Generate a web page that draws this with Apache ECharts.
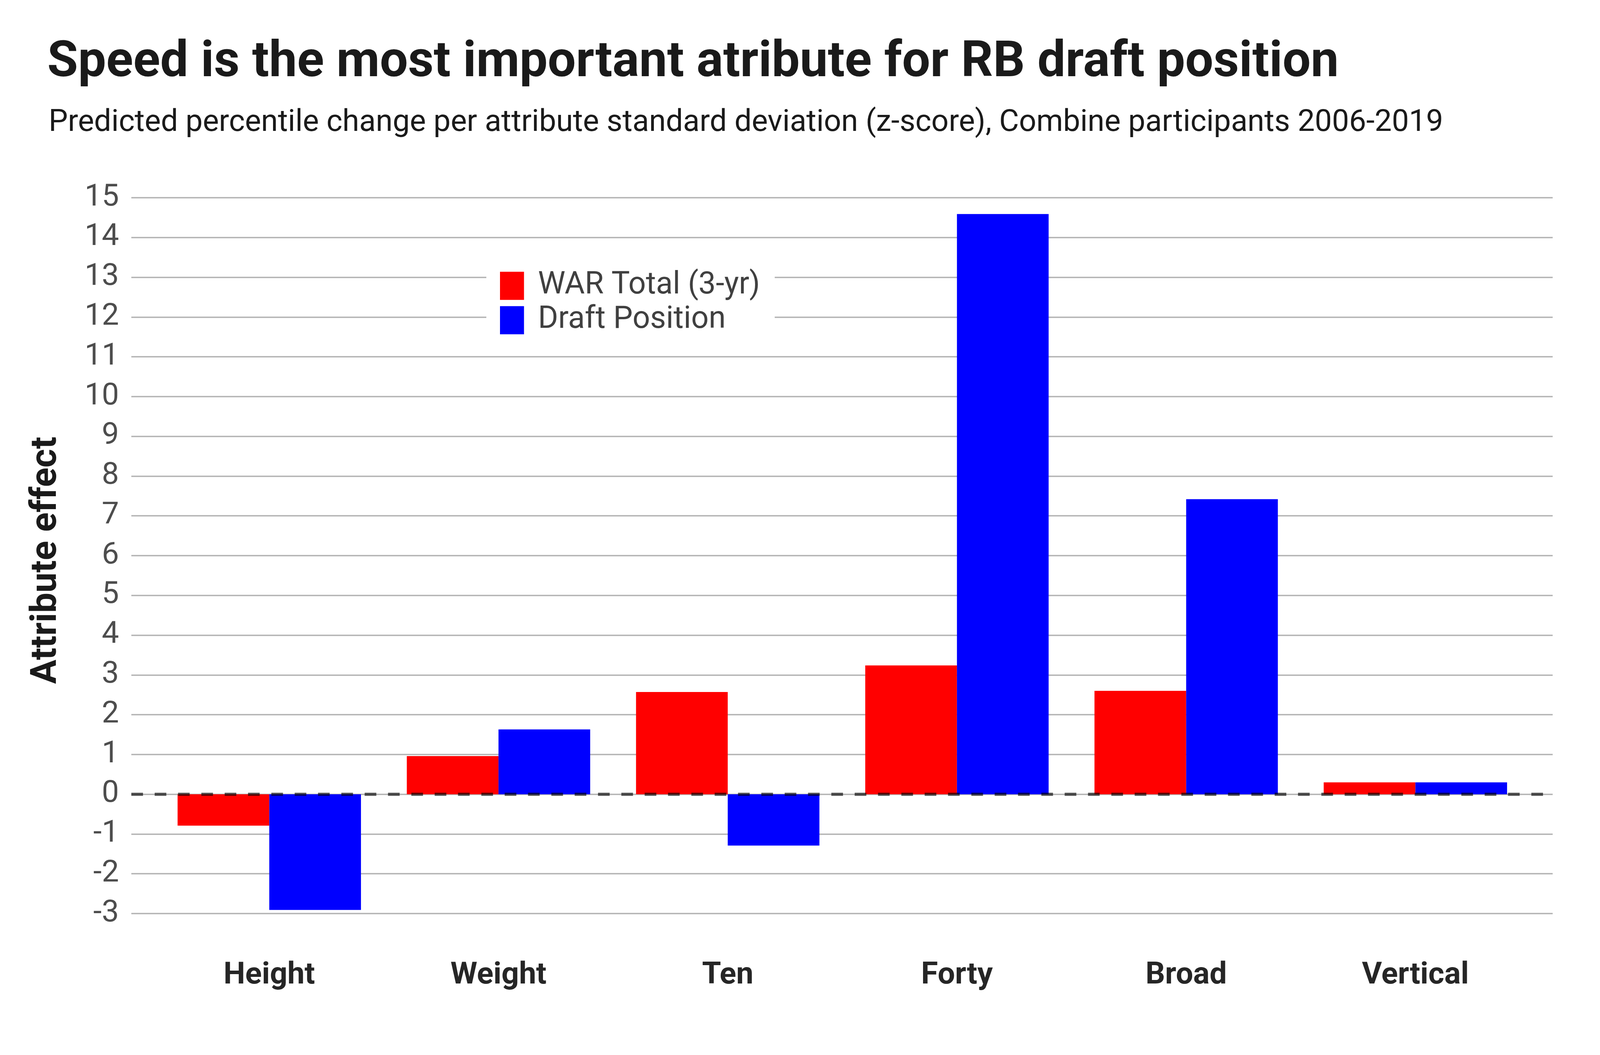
<!DOCTYPE html>
<html>
<head>
<meta charset="utf-8">
<script src="https://cdn.jsdelivr.net/npm/echarts@6/dist/echarts.min.js"></script>
<style>
html,body{margin:0;padding:0;background:#fff;overflow:hidden;}
#chart{width:100vw;height:100vh;}
</style>
</head>
<body>
<div id="chart"></div>
<script>
const categories = ['Height', 'Weight', 'Ten', 'Forty', 'Broad', 'Vertical'];
const warTotal = [-0.79, 0.96, 2.57, 3.24, 2.60, 0.30];
const draftPosition = [-2.91, 1.63, -1.29, 14.59, 7.42, 0.30];
const zeroLine = [[0, 0], [1, 0]];
const yMin = -3, yMax = 15, yStep = 1;

const el = document.getElementById('chart');
const W = el.clientWidth, H = el.clientHeight;
const sx = W / 4800, sy = H / 2700;
const X = v => v * sx;          // horizontal distances
const Y = v => v * sy;          // vertical distances
const F = v => v * sx;          // font sizes (width-preserving)
// top of a text box (lineHeight = font) whose centre must sit at reference y = c
const topFor = (c, f) => Y(c) - F(f) / 2;

const chart = echarts.init(el, null, {renderer: 'canvas'});
const FONT = 'Roboto';
const TITLE_F = 150, SUB_F = 91.5, AX_F = 92, LEG_F = 92.5, YT_F = 108;
const option = {
  backgroundColor: '#ffffff',
  animation: false,
  title: [
    {
      text: 'Speed is the most important atribute for RB draft position',
      left: X(136), top: topFor(158, TITLE_F),
      textStyle: {fontFamily: FONT, fontWeight: 'bold', fontSize: F(TITLE_F), lineHeight: F(TITLE_F), color: '#1a1a1a'}
    },
    {
      text: 'Predicted percentile change per attribute standard deviation (z-score), Combine participants 2006-2019',
      left: X(140), top: topFor(310, SUB_F),
      textStyle: {fontFamily: FONT, fontWeight: 'normal', fontSize: F(SUB_F), lineHeight: F(SUB_F), color: '#1a1a1a'}
    }
  ],
  legend: {
    orient: 'vertical',
    left: X(1459), top: Y(680),
    itemWidth: X(72), itemHeight: Y(72), itemGap: Y(9),
    icon: 'rect',
    backgroundColor: '#ffffff',
    padding: [Y(12), X(44), Y(12), X(41)],
    textStyle: {fontFamily: FONT, fontSize: F(LEG_F), lineHeight: Y(72), color: '#404040', padding: [0, 0, 0, X(36)]},
    data: ['WAR Total (3-yr)', 'Draft Position']
  },
  grid: [
    {left: X(394), right: X(142), top: Y(506), bottom: Y(362)},
    {left: X(464), right: X(210), top: Y(506), bottom: Y(362)}
  ],
  xAxis: [
    {type: 'value', gridIndex: 0, min: 0, max: 1, show: false},
    {
      type: 'category', gridIndex: 1, data: categories, boundaryGap: true,
      axisLine: {show: false}, axisTick: {show: false}, splitLine: {show: false},
      axisLabel: {
        fontFamily: FONT, fontWeight: 'bold', fontSize: F(AX_F), lineHeight: F(AX_F), color: '#262626',
        margin: Y(2497 - 2338) - F(AX_F) / 2
      }
    }
  ],
  yAxis: [
    {
      type: 'value', gridIndex: 0, min: yMin, max: yMax, interval: yStep,
      name: 'Attribute effect', nameLocation: 'middle', nameRotate: 90, nameGap: X(200),
      nameTextStyle: {fontFamily: FONT, fontWeight: 'bold', fontSize: F(YT_F), color: '#1a1a1a', padding: [0, X(28), 0, 0]},
      axisLine: {show: false}, axisTick: {show: false},
      axisLabel: {fontFamily: FONT, fontSize: F(AX_F), color: '#4d4d4d', margin: X(37)},
      splitLine: {show: true, lineStyle: {color: '#b3b3b3', width: Y(3.5)}}
    },
    {
      type: 'value', gridIndex: 1, min: yMin, max: yMax, interval: yStep, show: false,
      splitLine: {show: false}
    }
  ],
  series: [
    {
      name: 'WAR Total (3-yr)', type: 'bar', xAxisIndex: 1, yAxisIndex: 1,
      data: warTotal, barGap: '0%', barCategoryGap: '20%',
      itemStyle: {color: '#ff0000'}, z: 2
    },
    {
      name: 'Draft Position', type: 'bar', xAxisIndex: 1, yAxisIndex: 1,
      data: draftPosition, barGap: '0%', barCategoryGap: '20%',
      itemStyle: {color: '#0000ff'}, z: 2
    },
    {
      name: 'zero', type: 'line', xAxisIndex: 0, yAxisIndex: 0,
      data: zeroLine, symbol: 'none', silent: true, z: 5,
      lineStyle: {color: 'rgba(0,0,0,0.64)', width: Y(8), type: [X(35), X(35)]}
    }
  ]
};
chart.setOption(option);
</script>
</body>
</html>
